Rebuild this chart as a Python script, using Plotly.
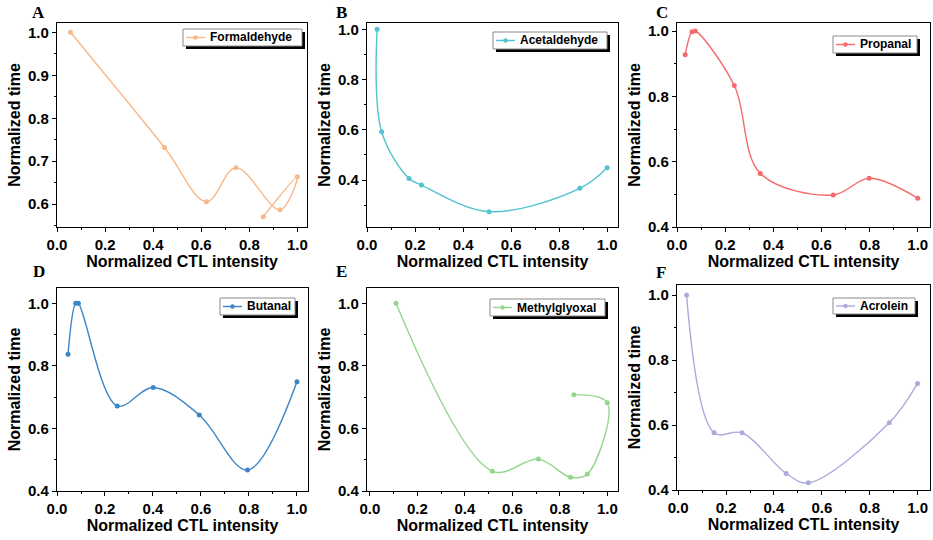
import plotly.graph_objects as go

W, H = 933, 540

# ---------------- data ----------------
names = ["Formaldehyde", "Acetaldehyde", "Propanal", "Butanal", "Methylglyoxal", "Acrolein"]
letters = ["A", "B", "C", "D", "E", "F"]
colors = ["#F7B98C", "#52C3D1", "#F56A6C", "#3D85C8", "#93D78E", "#ABABDF"]

formaldehyde_x = [0.056, 0.447, 0.622, 0.744, 0.928, 1.0, 0.858]
formaldehyde_y = [1.0, 0.732, 0.606, 0.685, 0.587, 0.664, 0.571]

acetaldehyde_x = [0.042, 0.061, 0.175, 0.227, 0.508, 0.886, 1.0]
acetaldehyde_y = [1.0, 0.592, 0.406, 0.380, 0.274, 0.367, 0.449]

propanal_x = [0.034, 0.062, 0.076, 0.238, 0.346, 0.649, 0.798, 1.0]
propanal_y = [0.927, 0.998, 1.0, 0.833, 0.564, 0.498, 0.549, 0.488]

butanal_x = [0.046, 0.078, 0.089, 0.251, 0.401, 0.593, 0.794, 1.0]
butanal_y = [0.837, 1.0, 1.0, 0.672, 0.731, 0.643, 0.467, 0.749]

methylglyoxal_x = [0.11, 0.516, 0.71, 0.845, 0.916, 1.0, 0.859]
methylglyoxal_y = [1.0, 0.463, 0.502, 0.444, 0.454, 0.682, 0.708]

acrolein_x = [0.035, 0.15, 0.267, 0.451, 0.544, 0.882, 1.0]
acrolein_y = [1.0, 0.576, 0.576, 0.451, 0.422, 0.607, 0.728]

xs = [formaldehyde_x, acetaldehyde_x, propanal_x, butanal_x, methylglyoxal_x, acrolein_x]
ys = [formaldehyde_y, acetaldehyde_y, propanal_y, butanal_y, methylglyoxal_y, acrolein_y]

x_title = "Normalized CTL intensity"
y_title = "Normalized time"

# ---------------- layout geometry (pixels) ----------------
boxes = [(57, 23, 307, 227), (367, 23, 618, 227), (677, 23, 930, 227),
         (57, 288, 308, 491), (367, 288, 618, 491), (677, 285, 930, 490)]
xranges = [[0, 1.04], [0, 1.045], [0, 1.051], [0, 1.046], [-0.012, 1.045], [-0.005, 1.052]]
yranges = [[0.547, 1.0216], [0.213, 1.025], [0.4, 1.0245], [0.4, 1.049], [0.4, 1.049], [0.4, 1.031]]
ydticks = [0.1, 0.2, 0.2, 0.2, 0.2, 0.2]
legend_boxes = [(183, 29, 302, 46), (493, 32, 607, 49), (833, 36, 917, 53),
                (220, 298, 295, 315), (490, 299, 605, 316), (833, 298, 915, 314)]
letter_pos = [(38, 13), (341, 13), (662, 13), (39, 271), (341, 271), (661, 272)]

def px(x):
    return x / W

def py(y):
    return 1 - y / H

SANS = "Liberation Sans, Arial, sans-serif"
SERIF = "Liberation Serif, Times New Roman, serif"

fig = go.Figure()
layout = dict(width=W, height=H, margin=dict(l=0, r=0, t=0, b=0, pad=0),
              template="none", autosize=False,
              paper_bgcolor="white", plot_bgcolor="white", showlegend=False,
              shapes=[], annotations=[])

for i in range(6):
    sfx = "" if i == 0 else str(i + 1)
    fig.add_trace(go.Scatter(
        x=xs[i], y=ys[i], mode="lines+markers", name=names[i],
        line=dict(color=colors[i], width=1.4, shape="spline", smoothing=1),
        marker=dict(color=colors[i], size=5),
        xaxis="x" + sfx, yaxis="y" + sfx))
    l, t, r, b = boxes[i]
    common = dict(showline=True, linecolor="black", linewidth=1.3, mirror=True,
                  automargin=False,
                  ticks="outside", ticklen=4, tickwidth=1.2, tickcolor="black",
                  showgrid=False, zeroline=False,
                  tickfont=dict(family=SANS, size=15, color="black", weight="bold"))
    layout["xaxis" + sfx] = dict(
        common, domain=[px(l), px(r)], range=xranges[i], anchor="y" + sfx,
        dtick=0.2, tick0=0, tickformat=".1f",
        minor=dict(dtick=0.1, ticks="outside", ticklen=2, tickcolor="black", showgrid=False),
        title=dict(text=x_title, standoff=0,
                   font=dict(family=SANS, size=16, color="black", weight="bold")))
    layout["yaxis" + sfx] = dict(
        common, domain=[py(b), py(t)], range=yranges[i], anchor="x" + sfx,
        dtick=ydticks[i], tick0=0, tickformat=".1f",
        minor=dict(dtick=ydticks[i] / 2, ticks="outside", ticklen=2, tickcolor="black",
                   showgrid=False),
        title=dict(text=y_title, standoff=3,
                   font=dict(family=SANS, size=16, color="black", weight="bold")))

    # legend (Origin-style box with shadow)
    ll, lt, lr, lb = legend_boxes[i]
    cy = (lt + lb) / 2
    layout["shapes"] += [
        dict(type="rect", xref="paper", yref="paper", x0=px(ll + 3), x1=px(lr + 3),
             y0=py(lb + 3), y1=py(lt + 3), fillcolor="black", line=dict(width=0)),
        dict(type="rect", xref="paper", yref="paper", x0=px(ll), x1=px(lr),
             y0=py(lb), y1=py(lt), fillcolor="white", line=dict(color="#8a8a8a", width=1)),
        dict(type="line", xref="paper", yref="paper", x0=px(ll + 3), x1=px(ll + 22),
             y0=py(cy), y1=py(cy), line=dict(color=colors[i], width=1.4)),
        dict(type="circle", xref="paper", yref="paper", x0=px(ll + 10.3), x1=px(ll + 14.7),
             y0=py(cy + 2.2), y1=py(cy - 2.2), fillcolor=colors[i], line=dict(width=0)),
    ]
    layout["annotations"].append(dict(
        x=px(ll + 25), y=py(cy), xref="paper", yref="paper", xanchor="left", yanchor="middle",
        text=names[i], showarrow=False,
        font=dict(family=SANS, size=12, color="black", weight="bold")))
    lx, ly = letter_pos[i]
    layout["annotations"].append(dict(
        x=px(lx), y=py(ly), xref="paper", yref="paper", xanchor="center", yanchor="middle",
        text=letters[i], showarrow=False, borderpad=0,
        font=dict(family=SERIF, size=17, color="black", weight="bold")))

fig.update_layout(**layout)
# remove the default 8px page margin so the figure fills the window exactly
fig.write_html("out.html", config={"displayModeBar": False},
               post_script="document.body.style.margin='0';")
